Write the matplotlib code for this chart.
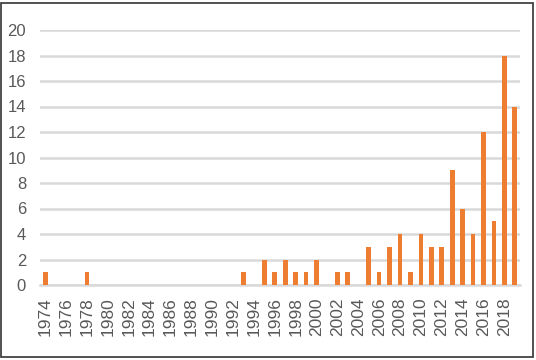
import matplotlib
matplotlib.use("Agg")
import matplotlib.pyplot as plt
from matplotlib.patches import Rectangle

years = list(range(1974, 2020))
counts = {1974: 1, 1978: 1, 1993: 1, 1995: 2, 1996: 1, 1997: 2, 1998: 1, 1999: 1,
          2000: 2, 2002: 1, 2003: 1, 2005: 3, 2006: 1, 2007: 3, 2008: 4, 2009: 1,
          2010: 4, 2011: 3, 2012: 3, 2013: 9, 2014: 6, 2015: 4, 2016: 12, 2017: 5,
          2018: 18, 2019: 14}
values = [counts.get(y, 0) for y in years]
yticks = list(range(0, 21, 2))

plt.rcParams['font.family'] = ['Liberation Sans', 'DejaVu Sans']
fig = plt.figure(figsize=(5.36, 3.6), dpi=100)
ax = fig.add_axes([40/536, 1-285/360, 480/536, (285-30)/360])
x = list(range(len(years)))
ax.bar(x, values, width=0.45, color='#ED7D31', zorder=3)
ax.set_xlim(-0.5, len(years)-0.5)
ax.set_ylim(0, 20)
ax.set_yticks(yticks)
ax.set_yticklabels([str(v) for v in yticks], fontsize=12, color='#595959')
ax.set_xticks(x[::2])
ax.set_xticklabels([str(y) for y in years[::2]], rotation=90, fontsize=12.5, color='#595959')
ax.yaxis.grid(True, color='#d9d9d9', linewidth=1.8, zorder=0)
for s in ['top', 'right', 'left']:
    ax.spines[s].set_visible(False)
ax.spines['bottom'].set_color('#d9d9d9')
ax.spines['bottom'].set_linewidth(1.8)
ax.tick_params(axis='y', length=0, pad=10)
ax.tick_params(axis='x', length=0, pad=9)
fig.patches.append(Rectangle((1/536, 3/360), 532/536, 354/360, transform=fig.transFigure,
                             fill=False, edgecolor='#333333', linewidth=1.2))
fig.savefig('out.png', dpi=100)
